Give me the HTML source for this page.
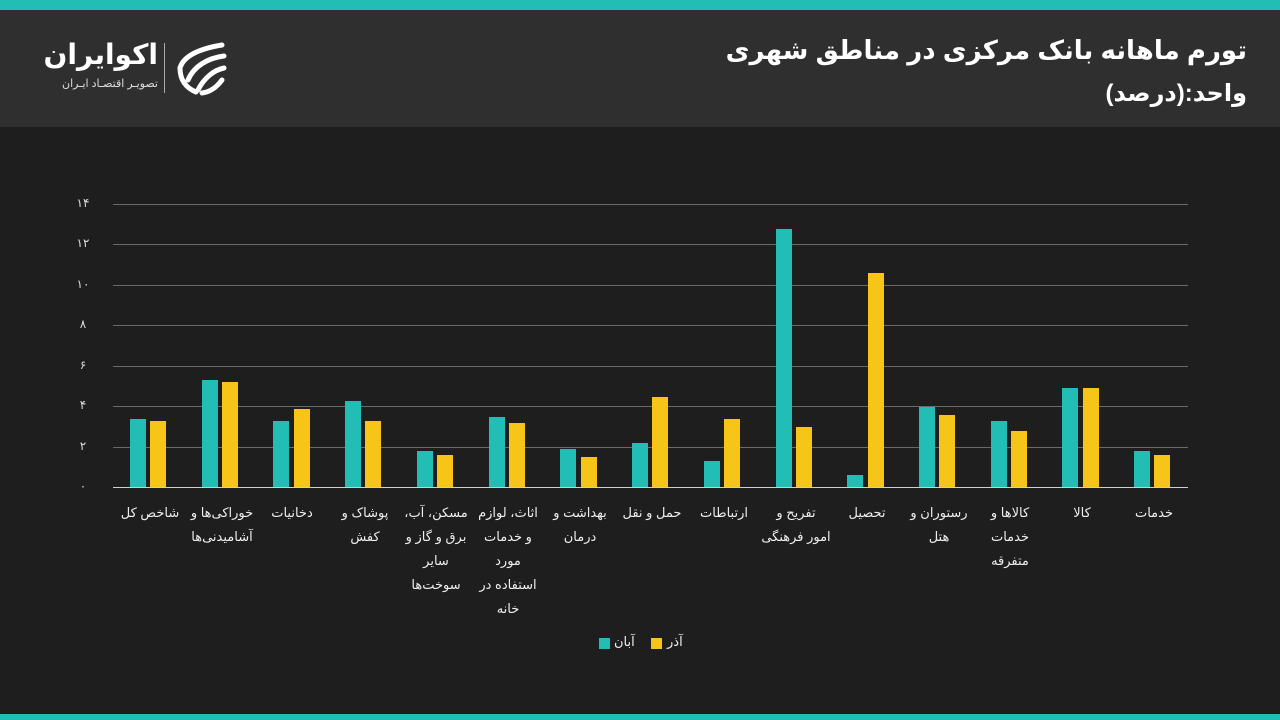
<!DOCTYPE html>
<html><head><meta charset="utf-8"><style>
*{margin:0;padding:0;box-sizing:border-box}
body{width:1280px;height:720px;background:#1f1e1f;position:relative;overflow:hidden;font-family:"Liberation Sans","Noto Sans CJK SC","DejaVu Sans",sans-serif;color:#fff}
.top{position:absolute;left:0;top:0;width:1280px;height:10px;background:#22bdb5}
.hdr{position:absolute;left:0;top:10px;width:1280px;height:117px;background:#2f2f2f}
.bot{position:absolute;left:0;top:714px;width:1280px;height:6px;background:#22bdb5}
.t1{position:absolute;right:33px;top:35px;font-size:26px;font-weight:bold;direction:rtl;white-space:nowrap}
.t2{position:absolute;right:33px;top:79px;font-size:24px;font-weight:bold;direction:rtl;white-space:nowrap}
.grid{position:absolute;left:113px;width:1075px;height:1px;background:#6a6a6a}
.yl{position:absolute;left:70px;width:26px;text-align:center;font-size:12px;color:#ddd}
.b{position:absolute;width:16px}
.tl{background:#22bdb5}.ye{background:#f6c518}
.lab{position:absolute;top:501px;width:80px;text-align:center;direction:rtl;font-size:13px;line-height:24px;color:#eee;white-space:nowrap}
</style></head><body>
<div class="top"></div><div class="hdr"></div><div class="bot"></div>
<div class="t1">تورم ماهانه بانک مرکزی در مناطق شهری</div>
<div class="t2">واحد:(درصد)</div>
<div style="position:absolute;left:40px;top:38px;width:118px;text-align:right;font-size:28px;font-weight:bold;direction:rtl;white-space:nowrap;overflow:hidden">اکوایران</div>
<div style="position:absolute;left:40px;top:77px;width:118px;text-align:right;font-size:11px;direction:rtl;white-space:nowrap;color:#ddd">تصویـر اقتصـاد ایـران</div>
<div style="position:absolute;left:164px;top:43px;width:1px;height:50px;background:#aaa"></div>
<svg style="position:absolute;left:174px;top:40px" width="54" height="56" viewBox="0 0 54 56">
<g fill="none" stroke="#fff" stroke-width="5" stroke-linecap="round">
<path d="M48 5 C30 8 10 14 6 28"/><path d="M50 16 C34 18 20 26 14 40"/><path d="M50 28 C40 30 30 38 24 50"/><path d="M6 28 C6 40 12 48 22 52"/><path d="M48 40 C42 48 36 52 28 53"/>
</g></svg>
<div class="grid" style="top:204px"></div><div class="grid" style="top:244px"></div><div class="grid" style="top:285px"></div><div class="grid" style="top:325px"></div><div class="grid" style="top:366px"></div><div class="grid" style="top:406px"></div><div class="grid" style="top:447px"></div>
<div class="grid" style="top:487px;background:#cfcfcf"></div>
<div class="yl" style="top:196px">۱۴</div><div class="yl" style="top:236px">۱۲</div><div class="yl" style="top:277px">۱۰</div><div class="yl" style="top:317px">۸</div><div class="yl" style="top:358px">۶</div><div class="yl" style="top:398px">۴</div><div class="yl" style="top:439px">۲</div><div class="yl" style="top:479px">۰</div>

<div class="b tl" style="left:130px;top:419px;height:68px"></div><div class="b ye" style="left:150px;top:421px;height:66px"></div>
<div class="b tl" style="left:202px;top:380px;height:107px"></div><div class="b ye" style="left:222px;top:382px;height:105px"></div>
<div class="b tl" style="left:273px;top:421px;height:66px"></div><div class="b ye" style="left:294px;top:409px;height:78px"></div>
<div class="b tl" style="left:345px;top:401px;height:86px"></div><div class="b ye" style="left:365px;top:421px;height:66px"></div>
<div class="b tl" style="left:417px;top:451px;height:36px"></div><div class="b ye" style="left:437px;top:455px;height:32px"></div>
<div class="b tl" style="left:489px;top:417px;height:70px"></div><div class="b ye" style="left:509px;top:423px;height:64px"></div>
<div class="b tl" style="left:560px;top:449px;height:38px"></div><div class="b ye" style="left:581px;top:457px;height:30px"></div>
<div class="b tl" style="left:632px;top:443px;height:44px"></div><div class="b ye" style="left:652px;top:397px;height:90px"></div>
<div class="b tl" style="left:704px;top:461px;height:26px"></div><div class="b ye" style="left:724px;top:419px;height:68px"></div>
<div class="b tl" style="left:776px;top:229px;height:258px"></div><div class="b ye" style="left:796px;top:427px;height:60px"></div>
<div class="b tl" style="left:847px;top:475px;height:12px"></div><div class="b ye" style="left:868px;top:273px;height:214px"></div>
<div class="b tl" style="left:919px;top:407px;height:80px"></div><div class="b ye" style="left:939px;top:415px;height:72px"></div>
<div class="b tl" style="left:991px;top:421px;height:66px"></div><div class="b ye" style="left:1011px;top:431px;height:56px"></div>
<div class="b tl" style="left:1062px;top:388px;height:99px"></div><div class="b ye" style="left:1083px;top:388px;height:99px"></div>
<div class="b tl" style="left:1134px;top:451px;height:36px"></div><div class="b ye" style="left:1154px;top:455px;height:32px"></div>

<div class="lab" style="left:108px;width:84px">شاخص کل</div>
<div class="lab" style="width:104px;left:170px">خوراکی‌ها و<br>آشامیدنی‌ها</div>
<div class="lab" style="left:252px;width:80px">دخانیات</div>
<div class="lab" style="left:325px">پوشاک و<br>کفش</div>
<div class="lab" style="left:391px;width:90px">مسکن، آب،<br>برق و گاز و<br>سایر<br>سوخت‌ها</div>
<div class="lab" style="left:463px;width:90px">اثاث، لوازم<br>و خدمات<br>مورد<br>استفاده در<br>خانه</div>
<div class="lab" style="left:540px">بهداشت و<br>درمان</div>
<div class="lab" style="left:612px">حمل و نقل</div>
<div class="lab" style="left:684px">ارتباطات</div>
<div class="lab" style="left:746px;width:100px">تفریح و<br>امور فرهنگی</div>
<div class="lab" style="left:827px">تحصیل</div>
<div class="lab" style="left:899px">رستوران و<br>هتل</div>
<div class="lab" style="left:970px">کالاها و<br>خدمات<br>متفرقه</div>
<div class="lab" style="left:1042px">کالا</div>
<div class="lab" style="left:1114px">خدمات</div>

<div style="position:absolute;left:599px;top:638px;width:11px;height:11px;background:#22bdb5"></div>
<div style="position:absolute;left:614px;top:634px;font-size:13px;color:#eee">آبان</div>
<div style="position:absolute;left:651px;top:638px;width:11px;height:11px;background:#f6c518"></div>
<div style="position:absolute;left:667px;top:634px;font-size:13px;color:#eee">آذر</div>
</body></html>
